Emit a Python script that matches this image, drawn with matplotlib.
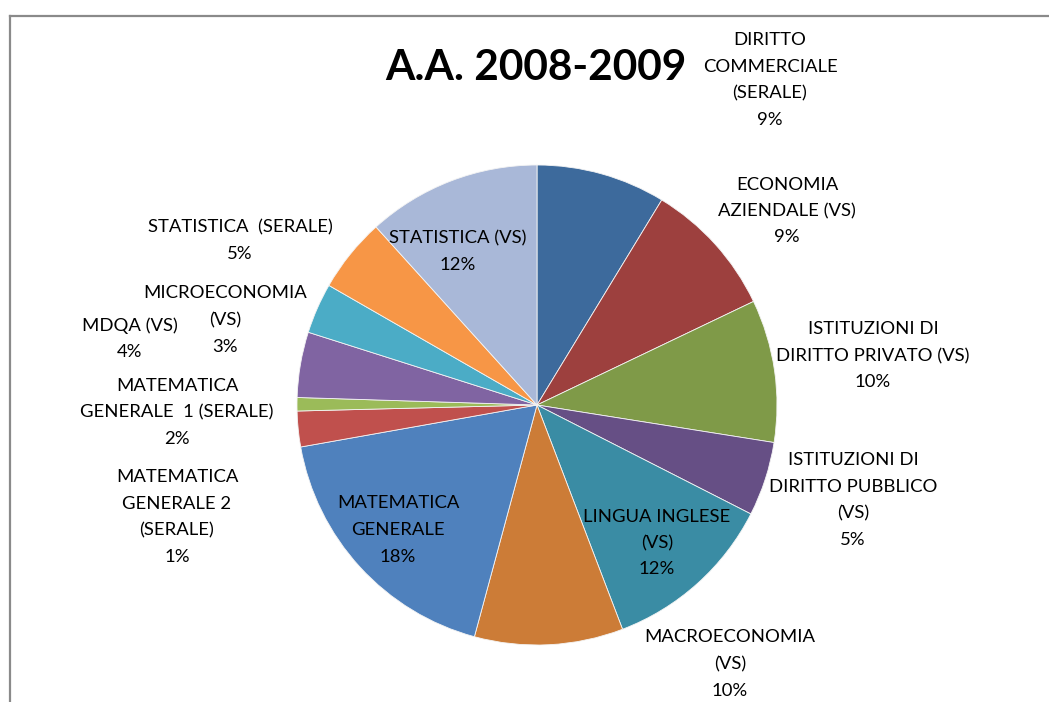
import matplotlib
matplotlib.use("Agg")
import matplotlib.pyplot as plt
from matplotlib.lines import Line2D

# ---- data ----
categories = [
    "DIRITTO\nCOMMERCIALE\n(SERALE)",
    "ECONOMIA\nAZIENDALE (VS)",
    "ISTITUZIONI DI\nDIRITTO PRIVATO (VS)",
    "ISTITUZIONI DI\nDIRITTO PUBBLICO\n(VS)",
    "LINGUA INGLESE\n(VS)",
    "MACROECONOMIA\n(VS)",
    "MATEMATICA\nGENERALE",
    "MATEMATICA\nGENERALE  1 (SERALE)",
    "MATEMATICA\nGENERALE 2\n(SERALE)",
    "MDQA (VS)",
    "MICROECONOMIA\n(VS)",
    "STATISTICA  (SERALE)",
    "STATISTICA (VS)",
]
values = [8.7, 9.2, 9.6, 5.0, 11.7, 10.0, 18.0, 2.4, 0.9, 4.4, 3.4, 5.0, 11.7]
colors = ["#3D6A9C", "#9D403E", "#7F9A48", "#664F85", "#3A8CA4", "#CC7C37",
          "#4F81BD", "#C0504D", "#9BBB59", "#8064A2", "#4BACC6", "#F79646", "#A9B8D8"]
title = "A.A. 2008-2009"

# label centres in pixels (x, y from top)
label_pos = [(770, 80), (787, 211), (873, 356), (853, 500), (657, 543), (730, 664),
             (398, 530), (177, 412), (177, 517), (130, 339), (225, 320), (240, 241), (458, 252)]

W, H = 1049, 702
fig = plt.figure(figsize=(W / 100, H / 100), dpi=100)
fig.patch.set_facecolor("white")

cx, cy, r = 537, 405, 240
ax = fig.add_axes([(cx - r) / W, (H - cy - r) / H, 2 * r / W, 2 * r / H])
ax.pie(values, colors=colors, startangle=90, counterclock=False, radius=1,
       wedgeprops=dict(edgecolor="#f4f4f4", linewidth=0.6))
ax.set_xlim(-1, 1)
ax.set_ylim(-1, 1)
ax.axis("off")

font = "Lato"
line_h = 26.5
total = sum(values)
for cat, v, (x, y) in zip(categories, values, label_pos):
    lines = cat.split("\n") + [f"{round(v / total * 100)}%"]
    n = len(lines)
    for i, ln in enumerate(lines):
        yy = y + (i - (n - 1) / 2) * line_h
        fig.text(x / W, 1 - yy / H, ln, ha="center", va="center", fontsize=13.3,
                 family=font, color="black")

fig.text(536 / W, 1 - 68 / H, title, ha="center", va="center", fontsize=30.5,
         fontweight="bold", family=font, color="black")

# chart frame (left and top edges visible)
fig.add_artist(Line2D([9.5 / W, 9.5 / W], [0, 1 - 16 / H], color="#8a8a8a", linewidth=1.6,
                      transform=fig.transFigure))
fig.add_artist(Line2D([9.5 / W, 1], [1 - 16 / H, 1 - 16 / H], color="#8a8a8a", linewidth=1.6,
                      transform=fig.transFigure))

fig.savefig("out.png", dpi=100, facecolor="white")
